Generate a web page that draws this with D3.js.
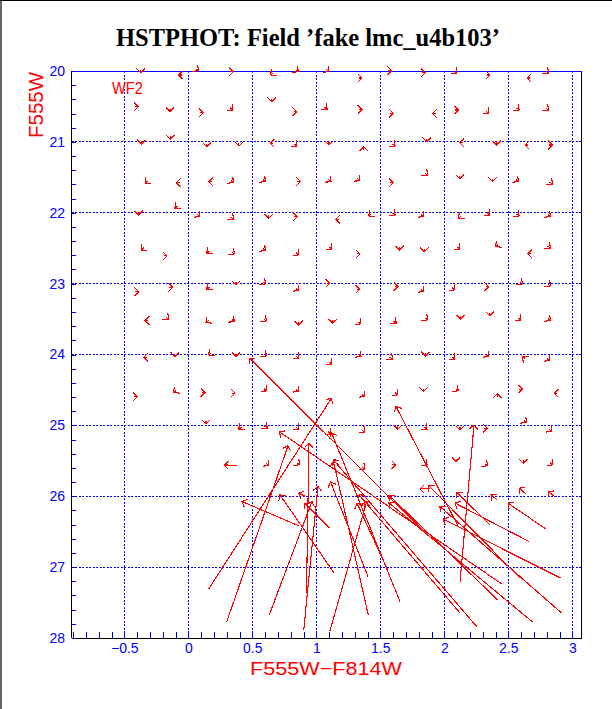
<!DOCTYPE html>
<html><head><meta charset="utf-8">
<script src="https://cdn.jsdelivr.net/npm/d3@7"></script>
<style>body{margin:0;background:#fff}svg{display:block}</style>
</head><body>
<svg id="c" width="612" height="709"></svg>
<script>
// Fake-star test: input (color, mag) -> recovered (color, mag)
const inColor = [
 -0.373,-0.053,0.058,0.327,0.664,0.839,1.079,1.332,1.563,1.827,2.077,2.332,2.671,2.793,
 -0.416,-0.143,0.092,0.327,0.652,0.822,1.064,1.332,1.577,1.933,2.087,2.327,2.564,2.793,
 -0.367,-0.141,0.145,0.395,0.664,0.826,1.099,1.371,1.595,1.862,2.146,2.408,2.655,2.819,
 -0.317,-0.068,0.185,0.332,0.582,0.852,1.095,1.321,1.577,1.848,2.121,2.377,2.558,2.824,
 -0.388,-0.084,0.070,0.332,0.627,0.827,1.177,1.431,1.595,1.818,2.132,2.335,2.564,2.808,
 -0.347,-0.191,0.165,0.339,0.582,0.842,1.101,1.316,1.651,1.843,2.101,2.422,2.677,2.808,
 -0.413,-0.148,0.165,0.373,0.582,0.842,1.080,1.316,1.613,1.818,2.061,2.322,2.589,2.808,
 -0.312,-0.175,0.158,0.339,0.589,0.862,1.127,1.329,1.604,1.848,2.127,2.355,2.579,2.808,
 -0.324,-0.105,0.180,0.373,0.589,0.842,1.101,1.329,1.574,1.852,2.061,2.327,2.632,2.803,
 -0.423,-0.094,0.105,0.340,0.592,0.842,1.357,1.616,1.838,2.088,2.413,2.587,2.884,
 0.138,0.415,0.596,0.842,1.092,1.357,1.636,1.845,2.123,2.311,2.621,2.819,
 0.610,0.848,1.357,1.595,1.845,2.092,2.316,2.616,2.828,0.378,
 1.888,0.911,2.411,2.638,2.865,1.420,
 0.160,0.298,0.633,0.902,0.923,1.105,1.136,0.862,1.105,1.406,1.849,2.109,2.123,2.448,
 2.795,2.662,2.357,2.909,2.917,2.691,2.591,2.422,2.253,2.123,1.654,1.563,1.404
];
const inMag = [
 19.984,20.056,19.966,20.010,20.026,19.980,19.980,20.099,19.996,20.024,20.002,20.056,20.099,20.002,
 20.504,20.534,20.588,20.520,20.393,20.574,20.510,20.540,20.597,20.597,20.550,20.567,20.520,20.520,
 20.990,20.923,21.028,21.018,21.020,21.028,21.004,21.108,21.028,20.957,21.011,21.004,21.044,21.044,
 21.554,21.575,21.561,21.545,21.531,21.561,21.531,21.517,21.575,21.437,21.483,21.521,21.531,21.568,
 21.991,21.907,22.025,22.062,22.038,22.055,22.092,22.015,22.001,22.025,22.048,22.001,22.015,22.025,
 22.495,22.609,22.541,22.551,22.505,22.565,22.485,22.581,22.485,22.509,22.485,22.448,22.581,22.471,
 23.113,23.051,23.049,22.978,22.974,23.069,22.994,23.079,23.042,23.083,23.059,23.042,22.974,23.002,
 23.522,23.472,23.520,23.506,23.496,23.542,23.519,23.538,23.529,23.482,23.462,23.416,23.482,23.492,
 24.038,23.990,23.976,23.990,23.990,24.022,24.107,24.000,24.036,23.980,24.036,24.000,24.060,24.056,
 24.594,24.507,24.537,24.546,24.483,24.493,24.564,24.540,24.483,24.483,24.596,24.489,24.546,
 24.939,25.024,25.009,25.024,25.090,25.066,25.014,25.024,25.023,25.039,24.930,25.057,
 25.537,25.527,25.588,25.557,25.527,25.471,25.541,25.493,25.527,25.567,
 25.896,26.000,26.050,25.966,26.008,26.165,
 27.306,27.781,27.673,27.884,27.367,27.908,27.076,26.417,26.450,27.673,26.512,26.427,27.203,27.236,
 26.464,26.639,26.403,27.155,27.649,27.776,27.155,27.471,27.838,27.649,27.485,27.062,27.133
];
const outColor = [
 -0.373,-0.078,0.078,0.352,0.644,0.859,1.099,1.357,1.588,1.852,2.097,2.357,2.646,2.813,
 -0.391,-0.143,0.117,0.347,0.652,0.847,1.084,1.357,1.602,1.908,2.112,2.347,2.584,2.813,
 -0.367,-0.141,0.145,0.395,0.639,0.846,1.099,1.371,1.615,1.862,2.121,2.408,2.630,2.844,
 -0.337,-0.093,0.160,0.352,0.602,0.877,1.115,1.341,1.602,1.868,2.121,2.377,2.578,2.844,
 -0.388,-0.104,0.090,0.352,0.627,0.852,1.152,1.411,1.615,1.838,2.112,2.355,2.584,2.828,
 -0.367,-0.166,0.145,0.359,0.602,0.862,1.121,1.341,1.651,1.843,2.121,2.402,2.652,2.828,
 -0.388,-0.123,0.145,0.373,0.602,0.862,1.105,1.341,1.638,1.838,2.081,2.347,2.609,2.828,
 -0.337,-0.155,0.138,0.359,0.609,0.862,1.127,1.349,1.624,1.868,2.127,2.355,2.599,2.828,
 -0.349,-0.105,0.160,0.373,0.609,0.862,1.121,1.349,1.594,1.852,2.081,2.347,2.612,2.823,
 -0.398,-0.114,0.130,0.365,0.612,0.862,1.377,1.636,1.838,2.108,2.413,2.612,2.859,
 0.138,0.395,0.616,0.862,1.112,1.377,1.636,1.865,2.123,2.336,2.641,2.839,
 0.630,0.868,1.377,1.620,1.865,2.092,2.336,2.616,2.848,0.281,
 1.810,0.862,2.365,2.584,2.813,1.380,
 1.118,0.779,0.966,1.013,0.943,1.394,0.716,0.420,0.907,1.134,0.478,1.623,2.232,0.713,
 2.498,2.084,2.097,1.992,1.966,1.568,1.880,1.568,1.133,1.334,1.120,1.318,1.111
];
const outMag = [
 20.024,20.056,19.996,20.010,20.056,20.010,20.010,20.099,19.996,20.024,20.032,20.056,20.099,20.032,
 20.504,20.574,20.588,20.550,20.433,20.574,20.540,20.540,20.597,20.597,20.550,20.597,20.550,20.550,
 21.030,20.963,21.068,21.058,21.020,21.058,21.044,21.068,21.058,20.997,21.011,21.044,21.044,21.044,
 21.584,21.575,21.561,21.575,21.561,21.561,21.561,21.547,21.575,21.467,21.523,21.561,21.561,21.598,
 22.031,21.937,22.055,22.092,22.078,22.055,22.092,22.045,22.031,22.055,22.078,22.031,22.045,22.055,
 22.525,22.609,22.571,22.581,22.535,22.595,22.515,22.581,22.525,22.549,22.515,22.478,22.581,22.501,
 23.113,23.051,23.079,23.018,23.004,23.099,22.994,23.079,23.042,23.113,23.089,23.042,23.004,23.032,
 23.522,23.502,23.550,23.536,23.526,23.582,23.559,23.568,23.559,23.512,23.502,23.456,23.512,23.522,
 24.038,24.030,24.006,24.030,24.020,24.052,24.137,24.030,24.066,24.020,24.066,24.030,24.030,24.086,
 24.594,24.537,24.537,24.546,24.513,24.523,24.594,24.570,24.523,24.513,24.556,24.489,24.546,
 24.979,25.054,25.039,25.054,25.120,25.096,25.054,25.054,25.063,25.039,24.960,25.087,
 25.567,25.557,25.618,25.557,25.557,25.511,25.571,25.533,25.557,25.557,
 25.896,25.956,25.980,25.886,25.934,26.075,
 24.619,25.289,26.075,25.863,25.251,26.075,25.980,26.075,26.097,25.508,24.052,24.735,24.993,25.092,
 26.097,26.097,25.945,26.323,26.145,26.093,25.853,25.987,25.487,25.980,25.110,26.097,25.797
];
const xTickLabels = [-0.5, 0, 0.5, 1, 1.5, 2, 2.5, 3];
const yTickLabels = [20, 21, 22, 23, 24, 25, 26, 27, 28];
const titleText = "HSTPHOT: Field \u2019fake lmc_u4b103\u2019";
const chipText = "WF2";
const xTitle = "F555W\u2212F814W";
const yTitle = "F555W";

const W = 612, H = 709;
const BLUE = "#0000ff", RED = "#ff0000";
const svg = d3.select("#c");
svg.append("rect").attr("width", W).attr("height", H).attr("fill", "#fff");
// page border (top & left)
svg.append("line").attr("x1", 0).attr("x2", W).attr("y1", 0.5).attr("y2", 0.5).attr("stroke", "#000");
svg.append("line").attr("x1", 1).attr("x2", 1).attr("y1", 0).attr("y2", H).attr("stroke", "#000").attr("stroke-width", 1.2);

const x = d3.scaleLinear().domain([-0.9125, 3.0734]).range([71.5, 581.7]);
const y = d3.scaleLinear().domain([20, 28]).range([71, 638]);
const [X0, X1] = x.range(), [Y0, Y1] = y.range();

// grid
const grid = svg.append("g").attr("stroke", BLUE).attr("stroke-dasharray", "2,1.5").attr("shape-rendering", "crispEdges");
grid.selectAll(".gv").data(xTickLabels).join("line")
  .attr("x1", d => x(d)).attr("x2", d => x(d)).attr("y1", Y0).attr("y2", Y1);
grid.selectAll(".gh").data(yTickLabels.filter(d => d > 20 && d < 28)).join("line")
  .attr("y1", d => y(d)).attr("y2", d => y(d)).attr("x1", X0).attr("x2", X1);

// frame
const fr = svg.append("g").attr("shape-rendering", "crispEdges");
fr.append("line").attr("x1", X0).attr("x2", X1).attr("y1", Y1).attr("y2", Y1).attr("stroke", "#000");
fr.append("line").attr("x1", X1).attr("x2", X1).attr("y1", Y0).attr("y2", Y1).attr("stroke", "#000");
fr.append("line").attr("x1", X0).attr("x2", X0).attr("y1", Y0).attr("y2", Y1).attr("stroke", "#000");
fr.append("line").attr("x1", X0).attr("x2", X1).attr("y1", Y0).attr("y2", Y0).attr("stroke", BLUE);

const isLabel = (arr, d) => arr.some(t => Math.abs(t - d) < 1e-6);
const fmt = d3.format("");

// x axis
const xMinor = d3.range(-9, 31).map(i => +(i / 10).toFixed(1));
const gx = svg.append("g").attr("transform", `translate(0,${Y1})`)
  .call(d3.axisBottom(x).tickValues(xMinor).tickSize(-6).tickPadding(5)
    .tickFormat(d => isLabel(xTickLabels, d) ? fmt(d) : ""));
gx.select(".domain").remove();
gx.selectAll("line").attr("stroke", BLUE).attr("shape-rendering", "crispEdges");
gx.attr("font-family", "'Liberation Sans', Arial, sans-serif").attr("font-size", 14);
gx.selectAll("text").attr("fill", BLUE);

// y axis
const yMinor = d3.range(0, 41).map(i => +(20 + i * 0.2).toFixed(1));
const gy = svg.append("g").attr("transform", `translate(${X0},0)`)
  .call(d3.axisLeft(y).tickValues(yMinor).tickSize(-4.5).tickPadding(6.5)
    .tickFormat(d => isLabel(yTickLabels, d) ? fmt(d) : ""));
gy.select(".domain").remove();
gy.selectAll("line").attr("stroke", BLUE).attr("shape-rendering", "crispEdges");
gy.attr("font-family", "'Liberation Sans', Arial, sans-serif").attr("font-size", 14);
gy.selectAll("text").attr("fill", BLUE);

// arrows
const HL = 6, HA = 45 * Math.PI / 180;
const arrows = d3.range(inColor.length).map(i => {
  const x0 = x(inColor[i]), y0 = y(inMag[i]), x1 = x(outColor[i]), y1 = y(outMag[i]);
  const a = Math.atan2(y1 - y0, x1 - x0);
  const p = d3.path();
  p.moveTo(x0, y0); p.lineTo(x1, y1);
  p.moveTo(x1 - HL * Math.cos(a - HA), y1 - HL * Math.sin(a - HA));
  p.lineTo(x1, y1);
  p.lineTo(x1 - HL * Math.cos(a + HA), y1 - HL * Math.sin(a + HA));
  return p.toString();
});
svg.append("g").attr("fill", "none").attr("stroke", RED).attr("stroke-width", 1.1)
  .attr("shape-rendering", "crispEdges")
  .selectAll("path").data(arrows).join("path").attr("d", d => d);

// texts
svg.append("text").attr("x", 308).attr("y", 46).attr("text-anchor", "middle")
  .attr("font-family", "'Liberation Serif', 'Times New Roman', serif").attr("font-weight", "bold")
  .attr("font-size", 24.5).attr("textLength", 384).attr("lengthAdjust", "spacingAndGlyphs")
  .attr("fill", "#000").text(titleText);
svg.append("text").attr("x", 112).attr("y", 94)
  .attr("font-family", "'Liberation Sans', Arial, sans-serif").attr("font-size", 16)
  .attr("textLength", 31).attr("lengthAdjust", "spacingAndGlyphs")
  .attr("fill", RED).text(chipText);
svg.append("text").attr("x", 326).attr("y", 675).attr("text-anchor", "middle")
  .attr("font-family", "'Liberation Sans', Arial, sans-serif").attr("font-size", 18.5)
  .attr("textLength", 152).attr("lengthAdjust", "spacingAndGlyphs")
  .attr("fill", RED).text(xTitle);
svg.append("text").attr("transform", "translate(43,72) rotate(-90)").attr("text-anchor", "end")
  .attr("font-family", "'Liberation Sans', Arial, sans-serif").attr("font-size", 19.5)
  .attr("textLength", 66).attr("lengthAdjust", "spacingAndGlyphs")
  .attr("fill", RED).text(yTitle);
</script>
</body></html>
